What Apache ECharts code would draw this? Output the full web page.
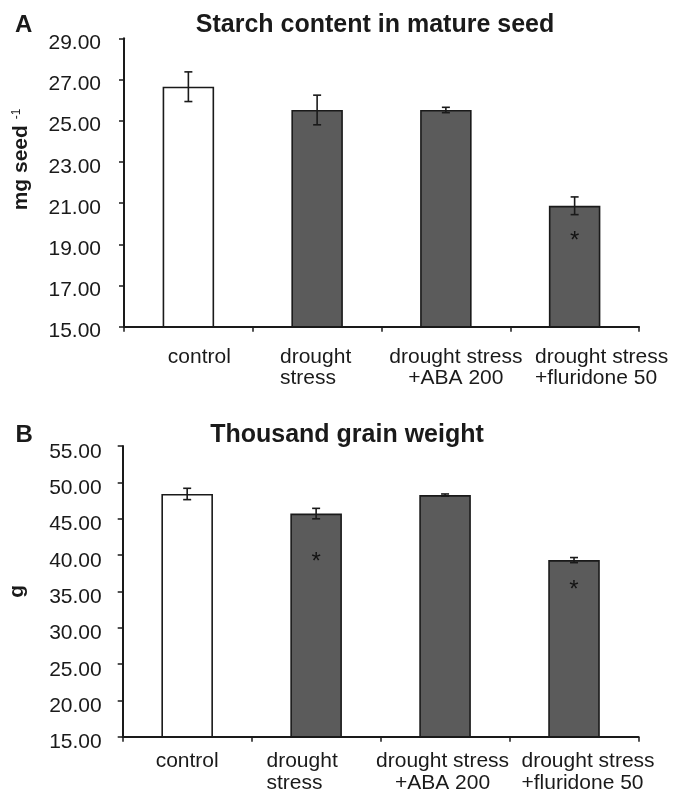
<!DOCTYPE html>
<html><head><meta charset="utf-8">
<script src="https://cdn.jsdelivr.net/npm/echarts@6/dist/echarts.min.js"></script>
<style>html,body{margin:0;padding:0;background:#fff}#c{width:684px;height:793px}</style>
</head><body><div id="c"></div>
<script>
// ---- data ----
const categories = ['control', 'drought\nstress', 'drought stress\n+ABA 200', 'drought stress\n+fluridone 50'];
const starchMean = [26.65, 25.52, 25.52, 20.87];
const starchErr  = [0.72, 0.72, 0.13, 0.43];
const starchStar = [null, null, null, 19.4];
const starchTicks = [15, 17, 19, 21, 23, 25, 27, 29];
const tgwMean = [48.4, 45.7, 48.25, 39.3];
const tgwErr  = [0.78, 0.72, 0.15, 0.35];
const tgwStar = [null, 39.7, null, 35.8];
const tgwTicks = [15, 20, 25, 30, 35, 40, 45, 50, 55];
const barColors = ['#ffffff', '#5b5b5b', '#5b5b5b', '#5b5b5b'];

const FONT = '"Liberation Sans", Arial, sans-serif';
const INK = '#1a1a1a';

function errRender(params, api) {
  const x = api.value(0), lo = api.value(1), hi = api.value(2);
  const p1 = api.coord([x, hi]), p2 = api.coord([x, lo]);
  const w = 4;
  const st = { stroke: INK, lineWidth: 1.6 };
  return { type: 'group', children: [
    { type: 'line', shape: { x1: p1[0], y1: p1[1], x2: p2[0], y2: p2[1] }, style: st },
    { type: 'line', shape: { x1: p1[0] - w, y1: p1[1], x2: p1[0] + w, y2: p1[1] }, style: st },
    { type: 'line', shape: { x1: p2[0] - w, y1: p2[1], x2: p2[0] + w, y2: p2[1] }, style: st }
  ]};
}

function richLabels(prefix, specs, lh) {
  const rich = {};
  specs.forEach((s, i) => {
    rich[prefix + i] = { align: s.align, padding: [0, s.pr || 0, 0, s.pl || 0],
      fontSize: 21, fontFamily: FONT, color: INK, lineHeight: lh };
  });
  return rich;
}
function labelFmt(prefix) {
  return (v, idx) => v.split('\n').map(s => '{' + prefix + idx + '|' + s + '}').join('\n');
}

function barData(means) {
  return means.map((v, i) => ({ value: v, itemStyle: { color: barColors[i] } }));
}
function errData(means, errs) {
  return means.map((m, i) => [i, m - errs[i], m + errs[i]]);
}
function starData(stars) {
  const out = [];
  stars.forEach((v, i) => { if (v != null) out.push([i, v]); });
  return out;
}

const axisLineStyle = { color: INK, width: 2 };
const tickStyle = { color: INK, width: 1.5 };

function xAxisCfg(gi, prefix, specs, lh, margin) {
  return {
    type: 'category', gridIndex: gi, data: categories, boundaryGap: true,
    axisLine: { show: true, lineStyle: axisLineStyle },
    axisTick: { show: true, length: 5, alignWithLabel: false, lineStyle: tickStyle },
    axisLabel: { interval: 0, margin: margin, formatter: labelFmt(prefix),
      rich: richLabels(prefix, specs, lh), fontSize: 21, fontFamily: FONT, color: INK, lineHeight: lh },
    splitLine: { show: false }
  };
}

function yLabel(ticks, margin, padTop) {
  return { customValues: ticks, formatter: v => '{v|' + Number(v).toFixed(2) + '}', margin: margin,
    fontSize: 21, fontFamily: FONT, color: INK,
    rich: { v: { fontSize: 21, fontFamily: FONT, color: INK, padding: [padTop, 0, 0, 0] } } };
}

const starLabel = { show: true, position: 'inside', formatter: '*', fontSize: 24, fontFamily: FONT,
  color: '#000', offset: [0, 5] };

const chart = echarts.init(document.getElementById('c'), null, { renderer: 'canvas' });
chart.setOption({
  backgroundColor: '#ffffff',
  animation: false,
  title: [
    { text: 'A', left: 15, top: 13, padding: 0, textVerticalAlign: 'top',
      textStyle: { fontSize: 24, fontWeight: 'bold', fontFamily: FONT, color: INK } },
    { text: 'Starch content in mature seed', left: 375, top: 13, padding: 0, textAlign: 'center', textVerticalAlign: 'top',
      textStyle: { fontSize: 25, fontWeight: 'bold', fontFamily: FONT, color: INK } },
    { text: 'B', left: 15.5, top: 423, padding: 0, textVerticalAlign: 'top',
      textStyle: { fontSize: 24, fontWeight: 'bold', fontFamily: FONT, color: INK } },
    { text: 'Thousand grain weight', left: 347, top: 423, padding: 0, textAlign: 'center', textVerticalAlign: 'top',
      textStyle: { fontSize: 25, fontWeight: 'bold', fontFamily: FONT, color: INK } }
  ],
  grid: [
    { left: 124, top: 38.3, width: 515, height: 288.4, outerBoundsMode: 'none', containLabel: false },
    { left: 122.7, top: 446, width: 515.8, height: 290.7, outerBoundsMode: 'none', containLabel: false }
  ],
  xAxis: [
    xAxisCfg(0, 't', [
      { align: 'center', pl: 22 }, { align: 'left', pr: 3 }, { align: 'center', pl: 20 }, { align: 'left', pl: 54 }
    ], 21, 20),
    xAxisCfg(1, 'b', [
      { align: 'center' }, { align: 'left', pr: 28 }, { align: 'center', pr: 5 }, { align: 'left', pl: 28 }
    ], 22, 14)
  ],
  yAxis: [
    {
      type: 'value', gridIndex: 0, min: 15, max: 29,
      name: 'mg seed {sup|-1}', nameLocation: 'middle', nameGap: 92,
      nameTextStyle: { fontSize: 21, fontWeight: 'bold', fontFamily: FONT, color: INK, padding: [0, 0, 0, 46],
        rich: { sup: { fontSize: 12, fontWeight: 'normal', fontFamily: FONT, color: INK, verticalAlign: 'top', padding: [0, 0, 0, 0] } } },
      axisLine: { show: true, lineStyle: axisLineStyle },
      axisTick: { show: true, length: 5, lineStyle: tickStyle, customValues: starchTicks },
      axisLabel: yLabel(starchTicks, 23, 10),
      splitLine: { show: false }
    },
    {
      type: 'value', gridIndex: 1, min: 15, max: 55, interval: 5,
      name: 'g', nameLocation: 'middle', nameGap: 95,
      nameTextStyle: { fontSize: 21, fontWeight: 'bold', fontFamily: FONT, color: INK },
      axisLine: { show: true, lineStyle: axisLineStyle },
      axisTick: { show: true, length: 5, lineStyle: tickStyle, customValues: tgwTicks },
      axisLabel: yLabel(tgwTicks, 21, 12),
      splitLine: { show: false }
    }
  ],
  series: [
    { type: 'bar', xAxisIndex: 0, yAxisIndex: 0, data: barData(starchMean), barWidth: '40%',
      itemStyle: { borderColor: INK, borderWidth: 1.6 }, z: 2 },
    { type: 'custom', xAxisIndex: 0, yAxisIndex: 0, data: errData(starchMean, starchErr),
      renderItem: errRender, encode: { x: 0, y: [1, 2] }, z: 5 },
    { type: 'scatter', xAxisIndex: 0, yAxisIndex: 0, data: starData(starchStar), symbolSize: 2,
      itemStyle: { color: 'rgba(0,0,0,0)' }, z: 6, label: starLabel },
    { type: 'bar', xAxisIndex: 1, yAxisIndex: 1, data: barData(tgwMean), barWidth: '40%',
      itemStyle: { borderColor: INK, borderWidth: 1.6 }, z: 2 },
    { type: 'custom', xAxisIndex: 1, yAxisIndex: 1, data: errData(tgwMean, tgwErr),
      renderItem: errRender, encode: { x: 0, y: [1, 2] }, z: 5 },
    { type: 'scatter', xAxisIndex: 1, yAxisIndex: 1, data: starData(tgwStar), symbolSize: 2,
      itemStyle: { color: 'rgba(0,0,0,0)' }, z: 6, label: starLabel }
  ]
});
</script>
</body></html>
